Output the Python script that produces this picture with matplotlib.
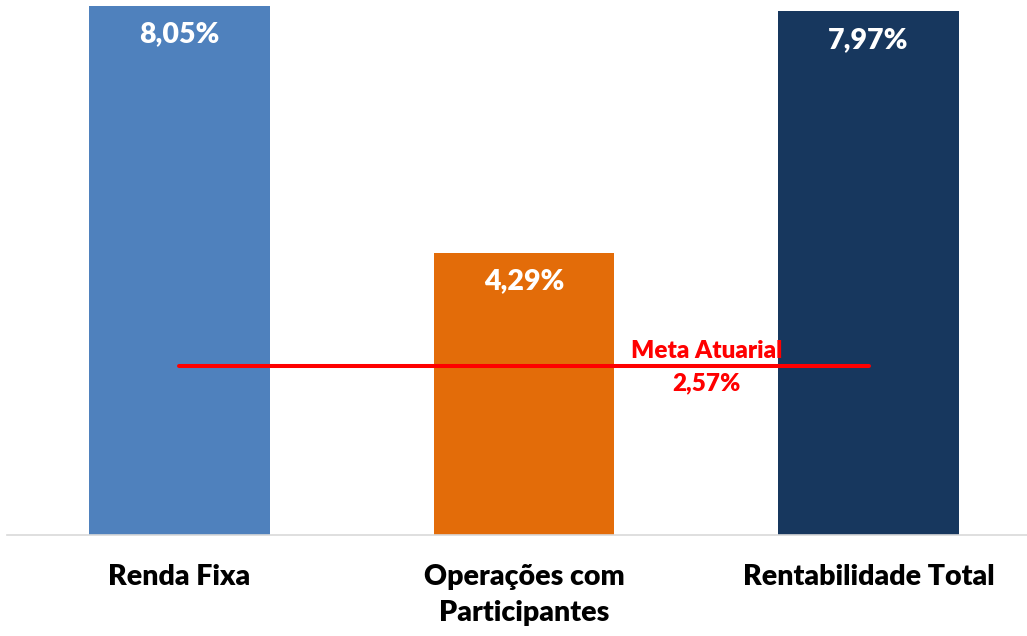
import matplotlib
matplotlib.use("Agg")
import matplotlib.pyplot as plt

categories = ["Renda Fixa", "Operações com\nParticipantes", "Rentabilidade Total"]
values = [8.05, 4.29, 7.97]
value_labels = ["8,05%", "4,29%", "7,97%"]
colors = ["#4F81BD", "#E36C09", "#17375E"]
meta_value = 2.57
meta_label = "Meta Atuarial\n2,57%"

plt.rcParams['font.family'] = ['Lato', 'DejaVu Sans']

W, H = 1027, 636
fig = plt.figure(figsize=(W / 100, H / 100), dpi=100)
ax = fig.add_axes([7 / W, 101 / H, 1020 / W, 535 / H])

x = list(range(len(categories)))
bars = ax.bar(x, values, width=0.525, color=colors, zorder=2)

for xi, v, lab in zip(x, values, value_labels):
    ax.annotate(lab, (xi, v), xytext=(0, -20.5), textcoords='offset points',
                ha='center', va='center', color='white', fontsize=20.5,
                fontweight='heavy', zorder=4)

ax.plot([x[0], x[-1]], [meta_value, meta_value], color='#FF0000', lw=2.9,
        solid_capstyle='round', zorder=3)
ax.annotate(meta_label, (1.53, meta_value), xytext=(0, -0.5), textcoords='offset points',
            ha='center', va='center', color='#FF0000', fontsize=17.5,
            fontweight='heavy', linespacing=1.58, zorder=5)

ax.set_xlim(-0.5007, 2.460)
ax.set_ylim(0, 8.142)
ax.set_xticks(x)
ax.set_xticklabels(categories, fontsize=20.5, fontweight='heavy', linespacing=1.45)
ax.tick_params(axis='x', length=0, pad=21)
ax.set_yticks([])
for s in ['top', 'right', 'left']:
    ax.spines[s].set_visible(False)
ax.spines['bottom'].set_color('#D9D9D9')
ax.spines['bottom'].set_linewidth(1.2)

fig.savefig("out.png", dpi=100)
